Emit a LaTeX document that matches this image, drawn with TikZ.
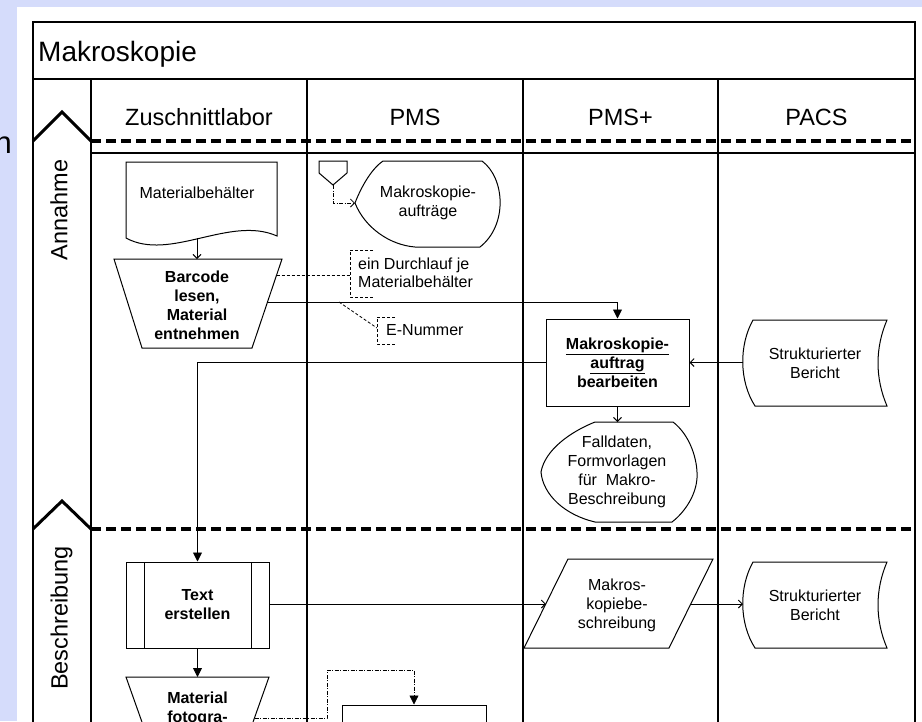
\documentclass[tikz,border=0pt]{standalone}
\usepackage{fontspec}
\setmainfont{Liberation Sans}
\usetikzlibrary{arrows.meta}
\definecolor{slideblue}{RGB}{213,220,251}
\begin{document}
\begin{tikzpicture}[x=1pt,y=-1pt,
  frame/.style={line width=1.1pt},
  phasedash/.style={line width=3.2pt, dash pattern=on 10pt off 5pt},
  chevron/.style={line width=3pt, line join=miter},
  shp/.style={line width=1pt, line join=miter},
  txt/.style={font=\fontsize{16}{19}\selectfont, align=center, inner sep=0pt},
  btxt/.style={font=\fontsize{16}{19}\selectfont\bfseries, align=center, inner sep=0pt},
  hdr/.style={font=\fontsize{23.5}{28}\selectfont, inner sep=0pt, anchor=base},
  conn/.style={line width=0.9pt},
  filltip/.style={-{Triangle[length=9pt,width=9pt]}},
  opentip/.style={-{Straight Barb[length=4pt,width=8pt]}},
  ann/.style={line width=0.8pt, dash pattern=on 3pt off 2pt},
  anndot/.style={line width=0.8pt, dash pattern=on 4pt off 1.5pt on 1pt off 1.5pt},
  stored/.pic={
    \draw[shp] (-62,-43) -- (72,-43) .. controls (60,-15) and (60,15) .. (72,43)
      -- (-60,43) .. controls (-76,18) and (-76,-18) .. (-62,-43) -- cycle;
  }
]
\useasboundingbox (0,0) rectangle (922,721);
\clip (0,0) rectangle (922,721);
\fill[slideblue] (0,0) rectangle (922,721);
\fill[white] (17,7) rectangle (922,721);
\node[font=\fontsize{31}{31}\selectfont, anchor=base east, inner sep=0pt] (slidechar) at (12,153) {n};

% frame and lanes
\draw[frame] (33,740) -- (33,22) -- (915,22) -- (915,740);
\draw[frame] (33,79) -- (915,79);
\draw[frame] (91,79) -- (91,740);
\draw[frame] (307,79) -- (307,740);
\draw[frame] (523,79) -- (523,740);
\draw[frame] (718,79) -- (718,740);
\draw[frame] (91,153) -- (915,153);

\node[anchor=base west, font=\fontsize{28}{32}\selectfont, inner sep=0pt] (title) at (38,61) {Makroskopie};
\node[hdr] (h1) at (199,125) {Zuschnittlabor};
\node[hdr] (h2) at (415,125) {PMS};
\node[hdr] (h3) at (620.5,125) {PMS+};
\node[hdr] (h4) at (816.5,125) {PACS};

% phases
\draw[chevron] (33,141) -- (62,112) -- (91,141);
\draw[phasedash] (91,141) -- (915,141);
\draw[chevron] (33,529) -- (62,501) -- (91,529);
\draw[phasedash] (91,529) -- (915,529);
\node[rotate=90, font=\fontsize{23.5}{28}\selectfont, inner sep=0pt] (annahme) at (59,210) {Annahme};
\node[rotate=90, font=\fontsize{23.5}{28}\selectfont, inner sep=0pt] (beschr) at (61.5,618) {Beschreibung};

% Materialbehaelter
\draw[shp] (126,238) -- (126,162) -- (277,162) -- (277,236) .. controls (230,215) and (170,262) .. (126,238) -- cycle;
\node[txt] (mb) at (197,193) {Materialbehälter};
\coordinate (mb-s) at (197,238);

% Barcode trapezoid
\draw[shp] (114,259) -- (282,259) -- (252,348) -- (142,348) -- cycle;
\node[btxt] (bc) at (197,305) {Barcode\\lesen,\\Material\\entnehmen};
\coordinate (bc-n) at (197,259);
\coordinate (bc-e1) at (276.6,275);
\coordinate (bc-e2) at (267.5,302);
\draw[conn, opentip] (mb-s) -- (bc-n);

% Makroskopieauftraege
\draw[shp] (383,161) -- (482,161) .. controls (505,178) and (508,225) .. (480,247) -- (415,247)
  .. controls (390,245) and (365,228) .. (355,203) .. controls (360,190) and (370,170) .. (383,161) -- cycle;
\node[txt] (auf) at (428,203) {Makroskopie-\\aufträge};
\coordinate (auf-w) at (355,203);

% off-page connector
\draw[shp] (319,161) -- (347,161) -- (347,173) -- (333,185) -- (319,173) -- cycle;
\coordinate (opc) at (333,185);
\draw[anndot, opentip] (opc) |- (auf-w);

% annotation ein Durchlauf
\coordinate (ann1) at (350,275);
\draw[ann] (bc-e1) -- (ann1);
\draw[ann] (373,250) -- (350,250) -- (350,297) -- (373,297);
\node[txt, anchor=west, align=left, font=\fontsize{16}{18}\selectfont] (durch) at (358,273) {ein Durchlauf je\\Materialbehälter};

% Makroskopieauftrag bearbeiten
\node[draw, shp, btxt, minimum width=143pt, minimum height=87pt] (mab) at (617.5,362.5)
  {\underline{Makroskopie-}\\\underline{auftrag}\\bearbeiten};
\draw[conn, filltip] (bc-e2) -| (mab.north);

% E-Nummer
\coordinate (enr) at (339,302);
\coordinate (ann2) at (377,328);
\draw[ann] (enr) -- (ann2);
\draw[ann] (395,317) -- (377,317) -- (377,344) -- (395,344);
\node[txt, anchor=west] (enum) at (386,330) {E-Nummer};

% Strukturierter Bericht 1
\pic at (815,363) {stored};
\node[txt] (sb1) at (815,363) {Strukturierter\\Bericht};
\coordinate (sb1-w) at (743,362.5);
\draw[conn, opentip] (sb1-w) -- (mab.east);

% Falldaten
\draw[shp] (595,422) -- (673,422) .. controls (690,435) and (698,460) .. (697,478)
  .. controls (696,495) and (685,512) .. (672,522) -- (595,522)
  .. controls (565,515) and (543,495) .. (541,472) .. controls (545,450) and (570,432) .. (595,422) -- cycle;
\node[txt] (fd) at (617,472) {Falldaten,\\Formvorlagen\\für~ Makro-\\Beschreibung};
\coordinate (fd-n) at (617.5,422);
\draw[conn, opentip] (mab.south) -- (fd-n);

% Text erstellen
\node[draw, shp, btxt, minimum width=143pt, minimum height=86pt] (te) at (197.5,605) {Text\\erstellen};
\draw[shp] (144,562) -- (144,648) (251,562) -- (251,648);
\draw[conn, filltip] (mab.west) -| (te.north);

% Makroskopiebeschreibung
\draw[shp] (568,559) -- (713,559) -- (669,648) -- (524,648) -- cycle;
\node[txt] (mkb) at (617,605) {Makros-\\kopiebe-\\schreibung};
\coordinate (mkb-w) at (546,604);
\coordinate (mkb-e) at (691,604);
\draw[conn, opentip] (te.east |- mkb-w) -- (mkb-w);

% Strukturierter Bericht 2
\pic at (815,605) {stored};
\node[txt] (sb2) at (815,605) {Strukturierter\\Bericht};
\coordinate (sb2-w) at (743,604);
\draw[conn, opentip] (mkb-e) -- (sb2-w);

% Material fotografieren
\draw[shp] (126,677) -- (269,677) -- (236,770) -- (159,770) -- cycle;
\node[btxt] (mf) at (197.5,708.5) {Material\\fotogra-};
\coordinate (mf-n) at (197.5,677);
\coordinate (mf-e) at (254.5,718);
\draw[conn, filltip] (te.south) -- (mf-n);

% lower box
\node[draw, shp, minimum width=144pt, minimum height=86pt] (bx) at (414,748) {};
\coordinate (b1) at (327,718);
\coordinate (b2) at (327,670);
\draw[anndot, filltip] (mf-e) -- (b1) -- (b2) -| (bx.north);
\end{tikzpicture}
\end{document}
